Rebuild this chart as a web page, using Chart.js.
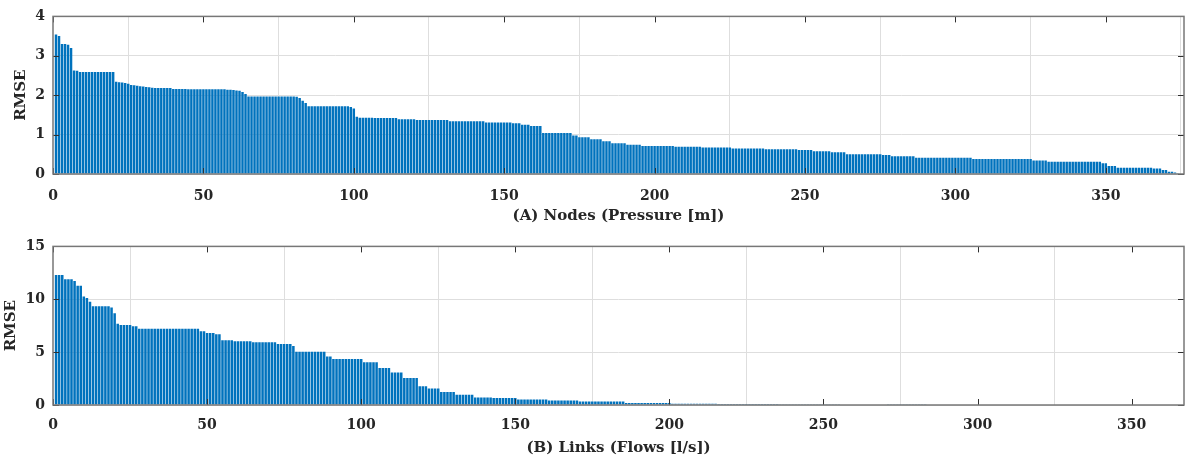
<!DOCTYPE html>
<html>
<head>
<meta charset="utf-8">
<script src="https://cdn.jsdelivr.net/npm/chart.js@4"></script>
<style>
  body { margin: 0; background: #fff; }
  #wrap { position: relative; width: 1186px; height: 459px; }
  .panel { position: absolute; left: 0; width: 1186px; }
</style>
</head>
<body>
<div id="wrap">
  <div class="panel" style="top:0;height:230px"><canvas id="chartA"></canvas></div>
  <div class="panel" style="top:230px;height:229px"><canvas id="chartB"></canvas></div>
</div>
<script>
// RMSE per node (pressure [m]), sorted descending
const nodeRmse = [
  3.54,3.50,3.30,3.30,3.28,3.20,2.63,2.62,2.59,2.59,
  2.59,2.59,2.59,2.59,2.59,2.59,2.59,2.59,2.59,2.59,
  2.34,2.33,2.32,2.31,2.29,2.26,2.25,2.24,2.23,2.22,
  2.21,2.20,2.19,2.18,2.18,2.18,2.18,2.18,2.18,2.16,
  2.16,2.16,2.16,2.16,2.15,2.15,2.15,2.15,2.15,2.15,
  2.15,2.15,2.15,2.15,2.15,2.15,2.15,2.14,2.14,2.13,
  2.12,2.11,2.08,2.03,1.97,1.97,1.97,1.97,1.97,1.97,
  1.97,1.97,1.97,1.97,1.97,1.97,1.97,1.97,1.97,1.97,
  1.96,1.93,1.86,1.80,1.72,1.72,1.72,1.72,1.72,1.72,
  1.72,1.72,1.72,1.72,1.72,1.72,1.72,1.72,1.70,1.66,
  1.45,1.43,1.43,1.43,1.43,1.43,1.42,1.42,1.42,1.42,
  1.42,1.42,1.42,1.42,1.39,1.39,1.39,1.39,1.39,1.39,
  1.37,1.37,1.37,1.37,1.37,1.37,1.37,1.37,1.37,1.37,
  1.37,1.34,1.34,1.34,1.34,1.34,1.34,1.34,1.34,1.34,
  1.34,1.34,1.34,1.31,1.31,1.31,1.31,1.31,1.31,1.31,
  1.31,1.31,1.29,1.29,1.29,1.25,1.25,1.25,1.22,1.22,
  1.22,1.22,1.04,1.04,1.04,1.04,1.04,1.04,1.04,1.04,
  1.04,1.04,0.98,0.98,0.93,0.93,0.93,0.93,0.88,0.88,
  0.88,0.88,0.83,0.83,0.83,0.78,0.78,0.78,0.78,0.78,
  0.74,0.74,0.74,0.74,0.74,0.71,0.71,0.71,0.71,0.71,
  0.71,0.71,0.71,0.71,0.71,0.71,0.69,0.69,0.69,0.69,
  0.69,0.69,0.69,0.69,0.69,0.67,0.67,0.67,0.67,0.67,
  0.67,0.67,0.67,0.67,0.67,0.65,0.65,0.65,0.65,0.65,
  0.65,0.65,0.65,0.65,0.65,0.65,0.63,0.63,0.63,0.63,
  0.63,0.63,0.63,0.63,0.63,0.63,0.63,0.61,0.61,0.61,
  0.61,0.61,0.58,0.58,0.58,0.58,0.58,0.58,0.55,0.55,
  0.55,0.55,0.55,0.50,0.50,0.50,0.50,0.50,0.50,0.50,
  0.50,0.50,0.50,0.50,0.50,0.48,0.48,0.48,0.45,0.45,
  0.45,0.45,0.45,0.45,0.45,0.45,0.41,0.41,0.41,0.41,
  0.41,0.41,0.41,0.41,0.41,0.41,0.41,0.41,0.41,0.41,
  0.41,0.41,0.41,0.41,0.41,0.38,0.38,0.38,0.38,0.38,
  0.38,0.38,0.38,0.38,0.38,0.38,0.38,0.38,0.38,0.38,
  0.38,0.38,0.38,0.38,0.38,0.34,0.34,0.34,0.34,0.34,
  0.31,0.31,0.31,0.31,0.31,0.31,0.31,0.31,0.31,0.31,
  0.31,0.31,0.31,0.31,0.31,0.31,0.31,0.31,0.27,0.27,
  0.20,0.20,0.20,0.16,0.16,0.16,0.16,0.16,0.16,0.16,
  0.16,0.16,0.16,0.16,0.16,0.14,0.14,0.14,0.10,0.10,
  0.06,0.06,0.04,0.02,0.01
];

// RMSE per link (flows [l/s]), sorted descending
const linkRmse = [
  12.29,12.29,12.29,11.89,11.89,11.89,11.73,11.27,11.27,10.27,
  10.11,9.77,9.34,9.34,9.34,9.34,9.34,9.34,9.21,8.68,
  7.69,7.56,7.56,7.56,7.56,7.44,7.44,7.22,7.22,7.22,
  7.22,7.22,7.22,7.22,7.22,7.22,7.22,7.22,7.22,7.22,
  7.22,7.22,7.22,7.22,7.22,7.22,7.22,6.97,6.97,6.82,
  6.82,6.82,6.69,6.69,6.13,6.13,6.13,6.13,6.04,6.04,
  6.04,6.04,6.04,6.04,5.94,5.94,5.94,5.94,5.94,5.94,
  5.94,5.94,5.76,5.76,5.76,5.76,5.76,5.57,5.04,5.04,
  5.04,5.04,5.04,5.04,5.04,5.04,5.04,5.04,4.58,4.58,
  4.36,4.36,4.36,4.36,4.36,4.36,4.36,4.36,4.36,4.36,
  4.05,4.05,4.05,4.05,4.05,3.49,3.49,3.49,3.49,3.08,
  3.08,3.08,3.08,2.55,2.55,2.55,2.55,2.55,1.77,1.77,
  1.77,1.56,1.56,1.56,1.56,1.24,1.24,1.24,1.24,1.24,
  0.96,0.96,0.96,0.96,0.96,0.96,0.72,0.72,0.72,0.72,
  0.72,0.72,0.66,0.66,0.66,0.66,0.66,0.66,0.66,0.66,
  0.53,0.53,0.53,0.53,0.53,0.53,0.53,0.53,0.53,0.53,
  0.42,0.42,0.42,0.42,0.42,0.42,0.42,0.42,0.42,0.42,
  0.33,0.33,0.33,0.33,0.33,0.33,0.33,0.33,0.33,0.33,
  0.33,0.33,0.33,0.33,0.33,0.20,0.20,0.20,0.20,0.20,
  0.20,0.20,0.20,0.20,0.20,0.20,0.20,0.20,0.20,0.20,
  0.13,0.13,0.13,0.13,0.13,0.13,0.13,0.13,0.13,0.13,
  0.13,0.13,0.13,0.13,0.13,0.10,0.10,0.10,0.10,0.10,
  0.10,0.10,0.10,0.10,0.10,0.10,0.10,0.10,0.10,0.10,
  0.10,0.10,0.10,0.10,0.10,0.06,0.06,0.06,0.06,0.06,
  0.06,0.06,0.06,0.06,0.06,0.06,0.06,0.06,0.06,0.06,
  0.06,0.06,0.06,0.06,0.06,0.04,0.04,0.04,0.04,0.04,
  0.04,0.04,0.04,0.04,0.04,0.04,0.04,0.04,0.04,0.04,
  0.02,0.02,0.02,0.02,0.02,0.02,0.02,0.02,0.02,0.02,
  0.02,0.02,0.02,0,0,0,0,0,0,0,
  0,0,0,0,0,0,0,0,0,0,
  0,0,0,0,0,0,0,0,0,0,
  0,0,0,0,0,0,0,0,0,0,
  0,0,0,0,0,0,0,0,0,0,
  0,0,0,0,0,0,0,0,0,0,
  0,0,0,0,0,0,0,0,0,0,
  0,0,0,0,0,0,0,0,0,0,
  0,0,0,0,0,0
];

const xTitles = ['(A) Nodes (Pressure [m])', '(B) Links (Flows [l/s])'];
const yTitle = 'RMSE';
const yMaxes = [4, 15];
const ySteps = [1, 5];

const textColor = '#262626';
const barColor = '#0072BD';
const fontFam = '"DejaVu Serif", serif';

// box outline + inward tick marks, matlab style
const boxPlugin = {
  id: 'boxPlugin',
  afterDatasetsDraw(chart) {
    const ctx = chart.ctx;
    const a = chart.chartArea;
    const x = chart.scales.x, y = chart.scales.y;
    ctx.save();
    ctx.strokeStyle = '#303030';
    ctx.lineWidth = 1;
    ctx.beginPath();
    x.ticks.forEach(t => {
      const px = Math.round(x.getPixelForValue(t.value)) + 0.5;
      ctx.moveTo(px, a.bottom); ctx.lineTo(px, a.bottom - 6);
      ctx.moveTo(px, a.top); ctx.lineTo(px, a.top + 6);
    });
    y.ticks.forEach(t => {
      const py = Math.round(y.getPixelForValue(t.value)) + 0.5;
      ctx.moveTo(a.left, py); ctx.lineTo(a.left + 6, py);
      ctx.moveTo(a.right, py); ctx.lineTo(a.right - 6, py);
    });
    ctx.stroke();
    ctx.strokeStyle = '#777';
    ctx.lineWidth = 1.5;
    ctx.strokeRect(a.left, a.top, a.width, a.height);
    ctx.restore();
  }
};

function makePanel(id, values, idx, padTop, axisH, yTitlePad, tickPad, xTitlePad) {
  const pts = values.map((v, i) => ({ x: i + 1, y: v }));
  new Chart(document.getElementById(id), {
    type: 'bar',
    data: {
      datasets: [{
        data: pts,
        backgroundColor: barColor,
        borderWidth: 0,
        barPercentage: 0.82,
        categoryPercentage: 1
      }]
    },
    options: {
      responsive: true,
      maintainAspectRatio: false,
      animation: false,
      layout: { padding: { top: padTop, right: 2, left: 0, bottom: 0 } },
      plugins: { legend: { display: false }, tooltip: { enabled: false } },
      scales: {
        x: {
          type: 'linear',
          min: 0,
          max: values.length + 1,
          offset: false,
          grid: { color: '#dedede', drawTicks: false },
          border: { display: false },
          ticks: {
            stepSize: 50, includeBounds: false, padding: tickPad,
            color: textColor, font: { family: fontFam, size: 14, weight: 'bold' }
          },
          title: {
            display: true, text: xTitles[idx], color: textColor,
            font: { family: fontFam, size: 15, weight: 'bold' },
            padding: { top: xTitlePad, bottom: xTitlePad }
          },
          afterFit: s => { s.height = axisH; }
        },
        y: {
          min: 0,
          max: yMaxes[idx],
          grid: { color: '#dedede', drawTicks: false },
          border: { display: false },
          ticks: {
            stepSize: ySteps[idx], padding: 8,
            color: textColor, font: { family: fontFam, size: 14, weight: 'bold' }
          },
          title: {
            display: true, text: yTitle, color: textColor,
            font: { family: fontFam, size: 15, weight: 'bold' },
            padding: { top: yTitlePad, bottom: 0 }
          },
          afterFit: s => { s.width = 53; }
        }
      }
    },
    plugins: [boxPlugin]
  });
}

makePanel('chartA', nodeRmse, 0, 12, 56, 12, 14, 5);
makePanel('chartB', linkRmse, 1, 13, 54, 2, 12, 2);
</script>
</body>
</html>
